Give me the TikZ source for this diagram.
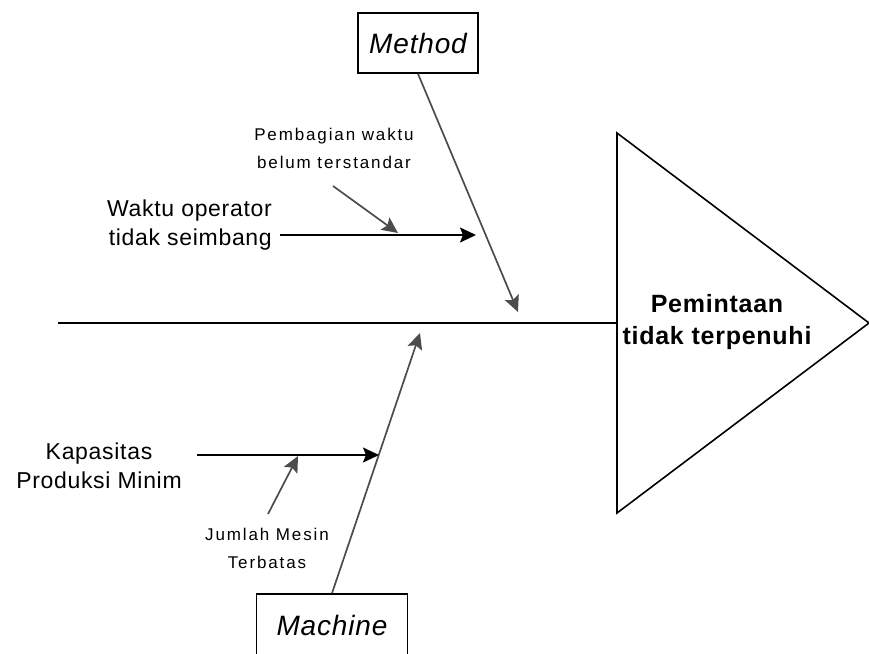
\documentclass[tikz,border=0pt]{standalone}
\usepackage{fontspec}
\usetikzlibrary{arrows.meta}
\newfontfamily\causefont[LetterSpace=3]{Liberation Sans}
\newfontfamily\notefont[LetterSpace=11]{Liberation Sans}
\tikzset{
  bone/.style={line width=2pt, draw=black!70},
  twig/.style={line width=1.7pt, -{Stealth[length=16pt,width=15pt,inset=3pt]}},
  category/.style={draw, line width=1.6pt, minimum width=120pt, minimum height=60pt,
    inner sep=0pt, font=\causefont\itshape\fontsize{28}{34}\selectfont},
  cause/.style={inner sep=0pt, font=\causefont\fontsize{23}{29}\selectfont},
  note/.style={align=center, inner sep=0pt, font=\notefont\fontsize{17}{28}\selectfont},
}
\begin{document}
\begin{tikzpicture}[x=1pt,y=-1pt]
    \useasboundingbox (0,0) rectangle (869,653);
    \clip (0,0) rectangle (869,653);
    % head and spine
    \coordinate (tail) at (58,323);
    \coordinate (neck) at (617,323);
    \draw[line width=1.6pt] (617,133) -- (869,323) -- (617,513) -- cycle;
    \node[inner sep=0pt, align=center, font=\causefont\bfseries\fontsize{25}{32}\selectfont]
        (effect) at (717,322) {Pemintaan\\tidak terpenuhi};
    \draw[line width=1.7pt] (tail) -- (neck);
    % categories
    \node[category] (method) at (418,43) {Method};
    \node[category, minimum width=151pt, minimum height=62pt] (machine) at (332,625) {Machine};
    \coordinate (mtip) at (518,312);
    \coordinate (ctip) at (420,333);
    \draw[bone, twig] (method.south) -- (mtip);
    \draw[bone, twig] (machine.north) -- (ctip);
    % method causes
    \node[cause, anchor=east, align=right] (waktu) at (272,225) {Waktu operator\\tidak seimbang};
    \coordinate (w0) at (280,235);
    \coordinate (w1) at (476,235);
    \draw[twig] (w0) -- (w1);
    \node[note] (bagi) at (334,148) {Pembagian waktu\\belum terstandar};
    \coordinate (b0) at (333,186);
    \coordinate (b1) at (398,233);
    \draw[bone, twig] (b0) -- (b1);
    % machine causes
    \node[cause, align=center] (kapasitas) at (99,466) {Kapasitas\\Produksi Minim};
    \coordinate (k0) at (197,455);
    \coordinate (k1) at (379,455);
    \draw[twig] (k0) -- (k1);
    \node[note] (jumlah) at (267,548) {Jumlah Mesin\\Terbatas};
    \coordinate (j0) at (268,514);
    \coordinate (j1) at (298,456);
    \draw[bone, twig] (j0) -- (j1);
\end{tikzpicture}
\end{document}
